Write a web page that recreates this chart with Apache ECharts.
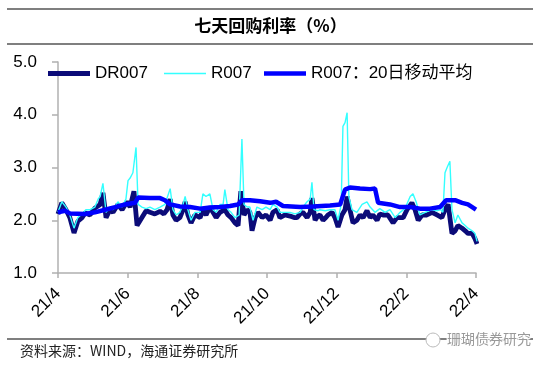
<!DOCTYPE html>
<html><head><meta charset="utf-8">
<script src="https://cdn.jsdelivr.net/npm/echarts@6/dist/echarts.min.js"></script>
<style>html,body{margin:0;padding:0;background:#fff}#c{width:541px;height:366px}</style>
</head><body><div id="c"></div>
<script>
// x = months since 2021/4 (fractional)
const tickLabels = ['21/4','21/6','21/8','21/10','21/12','22/2','22/4'];
const drX = [0.00,0.11,0.23,0.34,0.46,0.57,0.69,0.78,0.92,1.06,1.21,1.29,1.38,1.49,1.58,1.72,1.84,1.98,2.07,2.18,2.27,2.41,2.53,2.64,2.78,2.93,3.04,3.13,3.22,3.30,3.39,3.50,3.59,3.65,3.73,3.82,3.93,4.08,4.16,4.25,4.36,4.45,4.54,4.65,4.79,4.88,4.97,5.08,5.17,5.25,5.34,5.43,5.51,5.57,5.66,5.74,5.86,5.97,6.09,6.17,6.29,6.37,6.52,6.66,6.78,6.86,6.95,7.03,7.15,7.24,7.29,7.38,7.46,7.52,7.61,7.69,7.75,7.87,7.95,8.04,8.15,8.24,8.30,8.38,8.47,8.58,8.67,8.76,8.87,8.96,9.04,9.16,9.24,9.33,9.47,9.62,9.73,9.91,10.02,10.16,10.25,10.34,10.45,10.59,10.74,10.88,11.02,11.11,11.20,11.31,11.40,11.48,11.60,11.69,11.77,11.89,11.97,12.03];
const drY = [2.12,2.33,2.2,2.05,1.76,1.98,2.05,2.14,2.1,2.23,2.3,2.52,2.05,2.2,2.15,2.3,2.2,2.35,2.25,2.55,1.9,2.05,2.18,2.15,2.12,2.17,2.12,2.2,2.4,2.1,2.0,2.05,2.2,2.35,2.1,1.95,2.1,2.05,2.2,2.1,2.25,2.15,2.05,2.15,2.2,2.1,2.05,1.95,1.9,2.55,2.1,2.2,2.15,1.8,2.05,2.15,2.05,2.1,2.0,2.15,2.2,2.05,2.1,2.08,2.05,2.05,2.12,2.15,2.05,2.15,2.42,2.0,2.08,2.1,2.0,2.05,2.1,2.15,2.05,1.87,2.1,2.2,2.45,2.2,1.95,2.0,2.1,2.05,2.18,2.05,2.1,2.0,2.12,2.1,2.1,1.95,2.05,2.05,2.2,2.33,2.2,2.0,2.1,2.1,2.15,2.1,2.05,2.2,2.3,1.75,1.8,1.9,1.85,1.8,1.75,1.75,1.65,1.55];
const rX = [0.00,0.11,0.23,0.34,0.46,0.57,0.69,0.80,0.92,1.06,1.15,1.21,1.29,1.38,1.49,1.58,1.72,1.84,1.95,2.01,2.07,2.15,2.24,2.30,2.41,2.53,2.64,2.78,2.93,3.07,3.22,3.30,3.39,3.50,3.59,3.65,3.73,3.82,3.93,4.08,4.16,4.25,4.36,4.45,4.54,4.65,4.74,4.79,4.88,4.97,5.08,5.20,5.28,5.34,5.43,5.51,5.60,5.71,5.86,5.97,6.09,6.17,6.29,6.37,6.52,6.66,6.80,6.95,7.09,7.15,7.24,7.29,7.35,7.46,7.52,7.67,7.81,7.95,8.04,8.13,8.18,8.24,8.30,8.35,8.44,8.58,8.73,8.87,8.96,9.10,9.24,9.39,9.53,9.68,9.82,9.96,10.11,10.19,10.28,10.39,10.54,10.74,10.88,10.99,11.05,11.11,11.17,11.25,11.31,11.40,11.48,11.60,11.69,11.77,11.89,11.97,12.03];
const rY = [2.15,2.35,2.25,2.1,1.85,2.05,2.12,2.2,2.2,2.25,2.4,2.45,2.7,2.15,2.25,2.2,2.35,2.25,2.4,2.75,2.8,2.9,3.38,2.3,2.25,2.22,2.25,2.2,2.25,2.3,2.6,2.2,2.1,2.15,2.3,2.45,2.2,2.0,2.15,2.15,2.5,2.45,2.5,2.2,2.15,2.3,2.3,2.58,2.2,2.15,2.05,2.1,3.54,2.3,2.25,2.25,2.0,2.25,2.2,2.25,2.2,2.3,2.25,2.15,2.15,2.15,2.12,2.15,2.3,2.35,2.4,2.72,2.2,2.18,2.2,2.18,2.2,2.2,2.0,2.3,3.78,3.85,4.04,2.45,2.2,2.15,2.3,2.35,2.25,2.15,2.22,2.15,2.2,2.05,2.15,2.22,2.45,2.5,2.35,2.1,2.15,2.2,2.18,2.2,2.15,2.9,3.0,3.12,2.2,1.95,2.1,1.95,1.9,1.85,1.8,1.75,1.6];
const maX = [0.00,0.20,0.34,0.78,1.06,1.35,1.64,1.92,2.21,2.30,2.64,2.93,3.07,3.22,3.50,3.79,4.08,4.36,4.65,4.94,5.17,5.28,5.51,5.80,6.09,6.26,6.46,6.95,7.32,7.81,8.10,8.24,8.38,8.67,8.96,9.10,9.19,9.53,9.82,10.11,10.39,10.68,10.97,11.14,11.40,11.60,11.77,12.00];
const maY = [2.15,2.18,2.13,2.12,2.15,2.2,2.25,2.3,2.33,2.43,2.42,2.42,2.38,2.3,2.26,2.25,2.22,2.24,2.25,2.27,2.3,2.38,2.38,2.36,2.33,2.35,2.27,2.25,2.26,2.28,2.3,2.58,2.62,2.6,2.59,2.6,2.33,2.3,2.25,2.25,2.22,2.22,2.25,2.38,2.38,2.33,2.3,2.2];

const pairs = (xs, ys) => xs.map((x, i) => [x, ys[i]]);
const chart = echarts.init(document.getElementById('c'));
const font = '"Liberation Sans", Arial, "Noto Sans CJK SC", sans-serif';
const legTxt = { fontSize: 17, color: '#000', fontFamily: font };
const mkLegend = (name, left, h) => ({
  left: left, top: 65, padding: 0, itemWidth: 42, itemHeight: h, icon: 'rect',
  itemGap: 0, textStyle: legTxt, data: [name]
});
chart.setOption({
  animation: false,
  textStyle: { fontFamily: font },
  grid: { left: 58, right: 65, top: 62, bottom: 93 },
  legend: [
    mkLegend('DR007', 48, 5),
    mkLegend('R007', 164, 1.5),
    mkLegend('R007：20日移动平均', 264, 4.5)
  ],
  xAxis: {
    type: 'value', min: 0, max: 12, interval: 2,
    splitLine: { show: false },
    axisLine: { lineStyle: { color: '#b0b0b0', width: 1.5 } },
    axisTick: { show: true, length: 5, lineStyle: { color: '#b0b0b0', width: 1.5 } },
    axisLabel: { rotate: 45, fontSize: 17, color: '#000', margin: 18,
      formatter: v => tickLabels[Math.round(v / 2)] }
  },
  yAxis: {
    type: 'value', min: 1, max: 5, interval: 1,
    splitLine: { show: false },
    axisLine: { show: true, lineStyle: { color: '#b0b0b0', width: 1.5 } },
    axisTick: { show: true, inside: false, length: 6, lineStyle: { color: '#b0b0b0', width: 1.5 } },
    axisLabel: { fontSize: 17, color: '#000', margin: 21, formatter: v => v.toFixed(1) }
  },
  series: [
    { name: 'DR007', type: 'line', data: pairs(drX, drY), symbol: 'none',
      lineStyle: { color: '#0b0b78', width: 4.8 }, itemStyle: { color: '#0b0b78' } },
    { name: 'R007', type: 'line', data: pairs(rX, rY), symbol: 'none',
      lineStyle: { color: '#33ffff', width: 1.4 }, itemStyle: { color: '#33ffff' } },
    { name: 'R007：20日移动平均', type: 'line', data: pairs(maX, maY), symbol: 'none',
      lineStyle: { color: '#0000ff', width: 4.5 }, itemStyle: { color: '#0000ff' } }
  ],
  graphic: [
    { type: 'line', shape: { x1: 7, y1: 9, x2: 533, y2: 9 }, style: { stroke: '#000', lineWidth: 1.2 } },
    { type: 'line', shape: { x1: 7, y1: 44, x2: 533, y2: 44 }, style: { stroke: '#000', lineWidth: 1.2 } },
    { type: 'text', left: 'center', top: 17, style: { text: '七天回购利率（%）', font: 'bold 17px "Noto Sans CJK SC", sans-serif', fill: '#000' } },
    { type: 'line', shape: { x1: 7, y1: 339, x2: 533, y2: 339 }, style: { stroke: '#000', lineWidth: 1.2 } },
    { type: 'text', left: 20, top: 344, style: { text: '资料来源：WIND，海通证券研究所', font: '14px "Noto Sans CJK SC", sans-serif', fill: '#222' } },
    { type: 'circle', shape: { cx: 433, cy: 340, r: 7 }, style: { fill: '#fff', stroke: '#bbb', lineWidth: 1 } },
    { type: 'text', left: 446, top: 331, style: { text: '珊瑚债券研究', font: '14px "Noto Sans CJK SC", sans-serif', fill: '#999', stroke: '#fff', lineWidth: 2 } }
  ]
});
</script></body></html>
